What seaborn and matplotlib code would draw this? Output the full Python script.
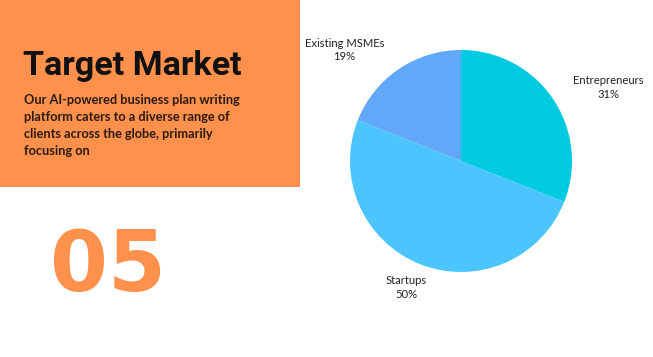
import matplotlib
matplotlib.use("Agg")
import matplotlib.pyplot as plt
import seaborn as sns
from matplotlib.patches import Rectangle

categories = ["Entrepreneurs", "Startups", "Existing MSMEs"]
shares = [31, 50, 19]
colors = ["#00CADF", "#4CC5FE", "#62A8F9"]
label_pos = [(1.33, 0.66), (-0.49, -1.14), (-1.05, 1.0)]

title = "Target Market"
body = ["Our AI-powered business plan writing",
        "platform caters to a diverse range of",
        "clients across the globe, primarily",
        "focusing on"]
number = "05"

sns.set_theme(style="white")
plt.rcParams['font.family'] = ['Lato', 'DejaVu Sans']

W, H = 653, 357
fig = plt.figure(figsize=(W / 100, H / 100), dpi=100)
fig.patch.set_facecolor("white")

# orange panel
fig.patches.append(Rectangle((0, 1 - 187 / H), 300 / W, 187 / H,
                             transform=fig.transFigure, facecolor="#FF914D",
                             edgecolor="none", zorder=0))
fig.text(23 / W, 1 - 66 / H, title, fontsize=24.6, fontweight="bold",
         family=["Roboto", "DejaVu Sans"], color="#111111", va="center", ha="left")
for i, line in enumerate(body):
    fig.text(24 / W, 1 - (100 + 17 * i) / H, line, fontsize=9.2, fontweight="bold",
             color="#2a1a12", va="center", ha="left")
fig.text(50 / W, 1 - 268 / H, number, fontsize=60, fontweight="bold",
         family=["DejaVu Sans"], color="#FF914D", va="center", ha="left")

# pie
cx, cy, r = 461, 161, 111
ax = fig.add_axes([(cx - r) / W, 1 - (cy + r) / H, 2 * r / W, 2 * r / H])
wedges, _ = ax.pie(shares, colors=colors, startangle=90, counterclock=False,
                   radius=1, wedgeprops=dict(linewidth=0))
ax.set_xlim(-1, 1)
ax.set_ylim(-1, 1)
ax.set_aspect("equal")
ax.axis("off")
for cat, val, (x, y) in zip(categories, shares, label_pos):
    ax.text(x, y, f"{cat}\n{val}%", ha="center", va="center", fontsize=8.1,
            color="#222222", linespacing=1.3, clip_on=False)

fig.savefig("out.png", dpi=100)
